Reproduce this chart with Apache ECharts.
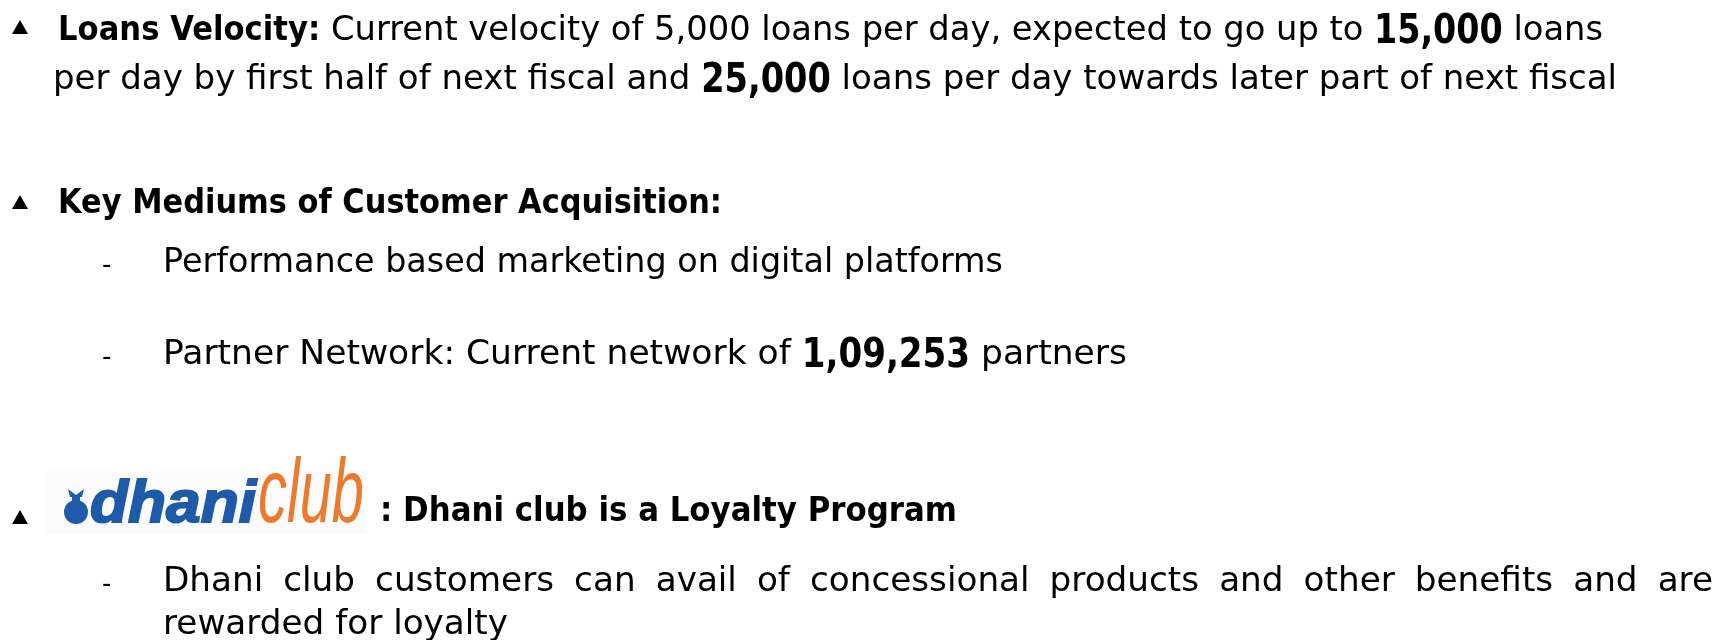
<!DOCTYPE html>
<html>
<head>
<meta charset="utf-8">
<script src="https://cdn.jsdelivr.net/npm/echarts@6/dist/echarts.min.js"></script>
<style>
  html, body { margin: 0; background: #fff; }
  #main { width: 1725px; height: 640px; }
</style>
</head>
<body>
<div id="main"></div>
<script>
// slide text, split in runs: n = normal, b = bold, B = big bold
const loansLine1 = [['Loans Velocity:', 'b'], [' Current velocity of 5,000 loans per day, expected to go up to ', 'n'], ['15,000', 'B'], [' loans', 'n']];
const loansLine2 = [['per day by first half of next fiscal and ', 'n'], ['25,000', 'B'], [' loans per day towards later part of next fiscal', 'n']];
const mediumsTitle = [['Key Mediums of Customer Acquisition:', 'b']];
const mediumsItem1 = [['Performance based marketing on digital platforms', 'n']];
const mediumsItem2 = [['Partner Network: Current network of ', 'n'], ['1,09,253', 'B'], [' partners', 'n']];
const clubTitle = [[': Dhani club is a Loyalty Program', 'b']];
const clubItemWords = ['Dhani', 'club', 'customers', 'can', 'avail', 'of', 'concessional', 'products', 'and', 'other', 'benefits', 'and', 'are'];
const clubItemLast = [['rewarded for loyalty', 'n']];
const logoWords = ['dhani', 'club'];

const FONT = '"DejaVu Sans", sans-serif';
const BASE = 34;
const runStyle = {
  n: { size: BASE, weight: 'normal', sq: 1 },
  b: { size: BASE, weight: 'bold', sq: 0.91 },
  B: { size: BASE + 6, weight: 'bold', sq: 0.84 }
};

const ctx = document.createElement('canvas').getContext('2d');
function measure(t, size, weight, family, style) {
  ctx.font = (style || 'normal') + ' ' + weight + ' ' + size + 'px ' + (family || FONT);
  return ctx.measureText(t).width;
}

// one line of runs, squeezed to the width it has on the slide
function textLine(parts, x, y, width) {
  let off = 0;
  const kids = [];
  parts.forEach(function (p) {
    const st = runStyle[p[1]];
    kids.push({
      type: 'text', x: off, y: (st.size - BASE) * 0.3, scaleX: st.sq,
      style: {
        text: p[0], fill: '#000', fontFamily: FONT, fontSize: st.size, fontWeight: st.weight,
        align: 'left', verticalAlign: 'middle'
      }
    });
    off += measure(p[0], st.size, st.weight) * st.sq;
  });
  return { type: 'group', x: x, y: y, scaleX: width / off, children: kids, scale: width / off };
}

function triangle(cx, cy) {
  return {
    type: 'polygon',
    shape: { points: [[cx - 8, cy + 7], [cx + 8, cy + 7], [cx, cy - 7]] },
    style: { fill: '#000' }
  };
}

function dash(y) {
  return {
    type: 'text', x: 102, y: y,
    style: { text: '-', fill: '#000', fontFamily: FONT, fontSize: 26, align: 'left', verticalAlign: 'middle' }
  };
}

const elements = [];

elements.push(triangle(20, 27));
elements.push(textLine(loansLine1, 58, 31, 1545));
elements.push(textLine(loansLine2, 53, 80, 1564));

elements.push(triangle(20, 202));
elements.push(textLine(mediumsTitle, 58, 204, 664));
elements.push(dash(266));
elements.push(textLine(mediumsItem1, 163, 263, 840));
elements.push(dash(358));
elements.push(textLine(mediumsItem2, 163, 355, 964));

// dhani club logo
elements.push(triangle(20, 517));
elements.push({ type: 'rect', shape: { x: 47, y: 470, width: 320, height: 64 }, style: { fill: '#fbfbfb' } });
elements.push({ type: 'circle', shape: { cx: 76, cy: 512, r: 12 }, style: { fill: '#1d5ba8' } });
elements.push({ type: 'rect', shape: { x: 72, y: 495, width: 8, height: 6 }, style: { fill: '#1d5ba8' } });
elements.push({ type: 'polygon', shape: { points: [[68, 489], [76, 495], [84, 489], [82, 497], [70, 497]] }, style: { fill: '#1d5ba8' } });
const dhaniW = measure(logoWords[0], 60, 'bold', '"Liberation Sans"', 'italic');
elements.push({
  type: 'text', x: 90, y: 505, scaleX: 166 / dhaniW,
  style: {
    text: logoWords[0], fill: '#1d5ba8', stroke: '#1d5ba8', lineWidth: 2,
    fontFamily: '"Liberation Sans"', fontStyle: 'italic', fontWeight: 'bold', fontSize: 60,
    align: 'left', verticalAlign: 'middle'
  }
});
const clubW = measure(logoWords[1], 90, 'normal', '"Liberation Sans"', 'italic');
elements.push({
  type: 'text', x: 258, y: 497, scaleX: 106 / clubW,
  style: { text: logoWords[1], fill: '#ec7a2c', fontFamily: '"Liberation Sans"', fontStyle: 'italic', fontSize: 90, align: 'left', verticalAlign: 'middle' }
});

elements.push(textLine(clubTitle, 380, 512, 577));

// justified line: same squeeze as the line under it
const last = textLine(clubItemLast, 163, 625, 345);
const sq = last.scale;
const wordW = clubItemWords.map(function (w) { return measure(w, BASE, 'normal') * sq; });
const gap = (1550 - wordW.reduce(function (a, b) { return a + b; }, 0)) / (clubItemWords.length - 1);
let wx = 163;
elements.push(dash(585));
clubItemWords.forEach(function (w, i) {
  elements.push({
    type: 'text', x: wx, y: 582, scaleX: sq,
    style: { text: w, fill: '#000', fontFamily: FONT, fontSize: BASE, align: 'left', verticalAlign: 'middle' }
  });
  wx += wordW[i] + gap;
});
elements.push(last);

elements.forEach(function (e) { delete e.scale; });

const chart = echarts.init(document.getElementById('main'), null, { renderer: 'canvas' });
chart.setOption({
  backgroundColor: '#fff',
  animation: false,
  graphic: { elements: elements }
});
</script>
</body>
</html>
